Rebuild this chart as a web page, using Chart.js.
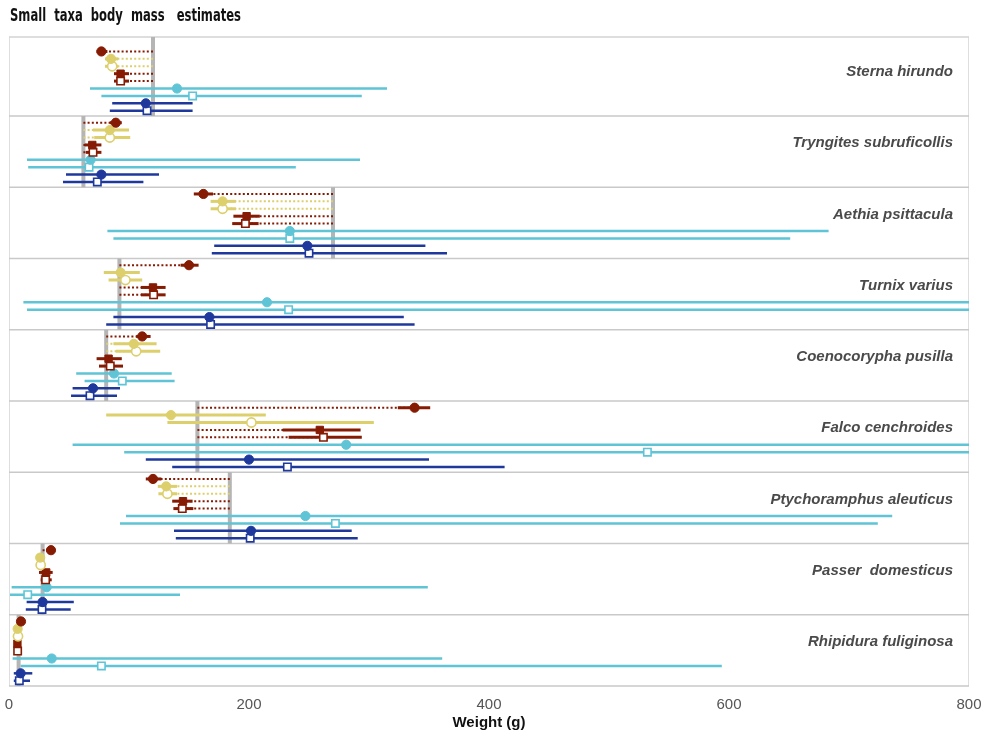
<!DOCTYPE html>
<html>
<head>
<meta charset="utf-8">
<script src="https://cdn.jsdelivr.net/npm/chart.js@4.4.0/dist/chart.umd.min.js"></script>
<style>
html,body{margin:0;padding:0;background:#fff;}
#wrap{width:984px;height:733px;}
</style>
</head>
<body>
<div id="wrap"><canvas id="c" width="984" height="733"></canvas></div>
<script>
// ---------- DATA ----------
const chartTitle = 'Small  taxa  body  mass   estimates';
const species = ['Sterna hirundo','Tryngites subruficollis','Aethia psittacula','Turnix varius','Coenocorypha pusilla','Falco cenchroides','Ptychoramphus aleuticus','Passer  domesticus','Rhipidura fuliginosa'];
const trueMass = [120, 62, 270, 92, 81, 157, 184, 28, 8];
const xTicks = [0, 200, 400, 600, 800];

// series 1: dark red filled circle
const redCircleEst = [77, 89, 162, 150, 111, 338, 120, 35, 10];
const redCircleLo  = [73, 84, 154, 143, 106, 324, 114, 31, 9];
const redCircleHi  = [82, 94, 170, 158, 118, 351, 127, 38, 11];
// series 2: gold filled circle
const goldCircleEst = [85, 84, 178, 93, 104, 135, 131, 26, 7.2];
const goldCircleLo  = [80, 70, 168, 79, 87, 81, 124, 24, 6.5];
const goldCircleHi  = [91, 100, 189, 109, 123, 214, 140, 28, 8];
// series 3: gold open circle
const goldOpenEst = [86, 84, 178, 97, 106, 202, 132, 26.4, 7.5];
const goldOpenLo  = [80, 71, 168, 83, 89, 132, 124.5, 24.5, 7];
const goldOpenHi  = [91, 101, 189, 111, 126, 304, 140, 28.5, 8];
// series 4: dark red filled square
const redSquareEst = [93, 69.4, 198, 120, 83, 259, 145, 31, 7];
const redSquareLo  = [87.5, 63, 187, 110, 73, 228, 136, 25, 6.5];
const redSquareHi  = [100, 77, 209, 130.5, 94, 293, 153, 36.4, 7.5];
// series 5: dark red open square
const redOpenEst = [93, 70, 197, 120.5, 84.4, 262, 144.4, 30.5, 7.2];
const redOpenLo  = [87.5, 64, 186, 110, 75, 233, 137, 26.4, 6.8];
const redOpenHi  = [100, 77, 208, 130.5, 95, 294, 153.6, 35.6, 7.6];
// series 6: cyan filled circle
const cyanCircleEst = [140, 68, 234, 215, 87.5, 281, 247, 31.4, 35.6];
const cyanCircleLo  = [67.5, 15, 82, 12, 56, 53, 97.5, 2.2, 3];
const cyanCircleHi  = [315, 292.5, 683, 900, 135.6, 1000, 736, 349, 361];
// series 7: cyan open square
const cyanOpenEst = [153, 66.7, 234, 233, 94.4, 532, 272, 15.6, 77];
const cyanOpenLo  = [77, 16, 87, 15, 63, 96, 92.5, 0.8, 9.7];
const cyanOpenHi  = [294, 239, 651, 1000, 138, 1000, 724, 142.5, 594];
// series 8: blue filled circle
const blueCircleEst = [114, 77, 248.6, 167, 70, 200, 201.7, 28, 9.7];
const blueCircleLo  = [86, 47.5, 171, 87, 53, 114, 137.5, 14.7, 4];
const blueCircleHi  = [153, 125, 347, 329, 92.5, 350, 285.6, 54, 19.4];
// series 9: blue open square
const blueOpenEst = [115, 73.6, 250, 168, 67.5, 232, 201, 27.5, 8.6];
const blueOpenLo  = [84, 45, 169, 81, 51.7, 136, 139, 14, 4];
const blueOpenHi  = [153, 112, 365, 338, 90, 413, 290.6, 51.4, 17.5];

// ---------- STYLE ----------
const RED = '#861b04', GOLD = '#dccf6c', CYAN = '#5ec4d6', BLUE = '#1e389c', TRUTH = '#b5b5b5', SEP = '#c9c9c9';
const series = [
  {est: redCircleEst, lo: redCircleLo, hi: redCircleHi, color: RED, style: 'circle', open: false, dotted: true, lw: 3},
  {est: goldCircleEst, lo: goldCircleLo, hi: goldCircleHi, color: GOLD, style: 'circle', open: false, dotted: true, lw: 3},
  {est: goldOpenEst, lo: goldOpenLo, hi: goldOpenHi, color: GOLD, style: 'circle', open: true, dotted: true, lw: 3},
  {est: redSquareEst, lo: redSquareLo, hi: redSquareHi, color: RED, style: 'rect', open: false, dotted: true, lw: 3},
  {est: redOpenEst, lo: redOpenLo, hi: redOpenHi, color: RED, style: 'rect', open: true, dotted: true, lw: 3},
  {est: cyanCircleEst, lo: cyanCircleLo, hi: cyanCircleHi, color: CYAN, style: 'circle', open: false, dotted: false, lw: 2.5},
  {est: cyanOpenEst, lo: cyanOpenLo, hi: cyanOpenHi, color: CYAN, style: 'rect', open: true, dotted: false, lw: 2.5},
  {est: blueCircleEst, lo: blueCircleLo, hi: blueCircleHi, color: BLUE, style: 'circle', open: false, dotted: false, lw: 2.5},
  {est: blueOpenEst, lo: blueOpenLo, hi: blueOpenHi, color: BLUE, style: 'rect', open: true, dotted: false, lw: 2.5}
];
const PANEL = 10, ROW0 = 0.94, ROWSTEP = 1.04, TOPEXTRA = 1.09, LABEL_OFF = 3.82;
const rowY = (p, r) => p * PANEL + ROW0 + ROWSTEP * r;

const datasets = series.map((s, r) => ({
  data: species.map((sp, p) => ({x: s.est[p], y: rowY(p, r)})),
  pointStyle: s.style,
  pointRadius: s.style === 'rect' ? 5.2 : 4.6,
  pointBackgroundColor: s.open ? '#ffffff' : s.color,
  pointBorderColor: s.color,
  pointBorderWidth: s.open ? 1.6 : 1,
  showLine: false
}));

const facetPlugin = {
  id: 'facets',
  beforeDatasetsDraw(chart) {
    const {ctx, chartArea: a, scales: {x, y}} = chart;
    ctx.save();
    ctx.beginPath();
    ctx.rect(a.left, a.top - 2, a.right - a.left, a.bottom - a.top + 4);
    ctx.clip();
    // frame
    ctx.strokeStyle = '#d4d4d4';
    ctx.lineWidth = 1.5;
    ctx.beginPath();
    ctx.moveTo(a.left, a.bottom); ctx.lineTo(a.left, a.top); ctx.lineTo(a.right, a.top); ctx.lineTo(a.right, a.bottom);
    ctx.stroke();
    // separators
    ctx.strokeStyle = SEP;
    for (let p = 1; p <= species.length; p++) {
      const yy = y.getPixelForValue(p * PANEL);
      ctx.beginPath(); ctx.moveTo(a.left, yy); ctx.lineTo(a.right, yy); ctx.stroke();
    }
    // truth lines
    ctx.strokeStyle = TRUTH; ctx.lineWidth = 4;
    trueMass.forEach((m, p) => {
      const xx = x.getPixelForValue(m);
      const y0 = y.getPixelForValue(p === 0 ? -TOPEXTRA : p * PANEL);
      const y1 = y.getPixelForValue((p + 1) * PANEL);
      ctx.beginPath(); ctx.moveTo(xx, y0); ctx.lineTo(xx, y1); ctx.stroke();
    });
    // dotted to truth
    series.forEach((s, r) => {
      if (!s.dotted) return;
      ctx.strokeStyle = s.color; ctx.lineWidth = 2; ctx.setLineDash([2, 2.2]);
      species.forEach((sp, p) => {
        const yy = y.getPixelForValue(rowY(p, r));
        ctx.beginPath();
        ctx.moveTo(x.getPixelForValue(trueMass[p]), yy);
        ctx.lineTo(x.getPixelForValue(s.est[p]), yy);
        ctx.stroke();
      });
    });
    ctx.setLineDash([]);
    // CI
    series.forEach((s, r) => {
      ctx.strokeStyle = s.color; ctx.lineWidth = s.lw;
      species.forEach((sp, p) => {
        const yy = y.getPixelForValue(rowY(p, r));
        ctx.beginPath();
        ctx.moveTo(x.getPixelForValue(s.lo[p]), yy);
        ctx.lineTo(x.getPixelForValue(s.hi[p]), yy);
        ctx.stroke();
      });
    });
    // labels
    ctx.fillStyle = '#4a4a4a';
    ctx.font = 'italic bold 15px "Liberation Sans", Arial, sans-serif';
    ctx.textAlign = 'right'; ctx.textBaseline = 'middle';
    species.forEach((sp, p) => {
      ctx.fillText(sp, a.right - 16, y.getPixelForValue(p * PANEL + LABEL_OFF));
    });
    ctx.restore();
  },
  afterDraw(chart) {
    // condensed heavy title
    const ctx = chart.ctx;
    ctx.save();
    ctx.font = 'bold 17px "DejaVu Sans Condensed", "DejaVu Sans", sans-serif';
    ctx.fillStyle = '#111';
    ctx.textAlign = 'left'; ctx.textBaseline = 'middle';
    const w = ctx.measureText(chartTitle).width;
    const target = 231;
    ctx.translate(10, 17);
    ctx.scale(target / w, 1);
    ctx.fillText(chartTitle, 0, 0);
    ctx.restore();
  }
};

new Chart(document.getElementById('c'), {
  type: 'scatter',
  data: {datasets},
  options: {
    responsive: false,
    animation: false,
    layout: {padding: {left: 9, right: 15, top: 37, bottom: 1}},
    plugins: {
      legend: {display: false},
      tooltip: {enabled: false},
      title: {display: false}
    },
    scales: {
      x: {
        type: 'linear', min: 0, max: 800,
        afterBuildTicks: sc => { sc.ticks = xTicks.map(v => ({value: v})); },
        afterFit: sc => { sc.paddingLeft = 0; sc.paddingRight = 0; },
        grid: {display: false, drawTicks: false},
        border: {display: false},
        ticks: {color: '#555', font: {family: '"Liberation Sans", Arial, sans-serif', size: 15}, padding: 10},
        title: {display: true, text: 'Weight (g)', color: '#111', font: {family: '"Liberation Sans", Arial, sans-serif', size: 15, weight: 'bold'}, padding: {top: -10, bottom: 0}}
      },
      y: {
        type: 'linear', reverse: true, min: -TOPEXTRA, max: species.length * PANEL,
        display: false
      }
    }
  },
  plugins: [facetPlugin]
});
</script>
</body>
</html>
